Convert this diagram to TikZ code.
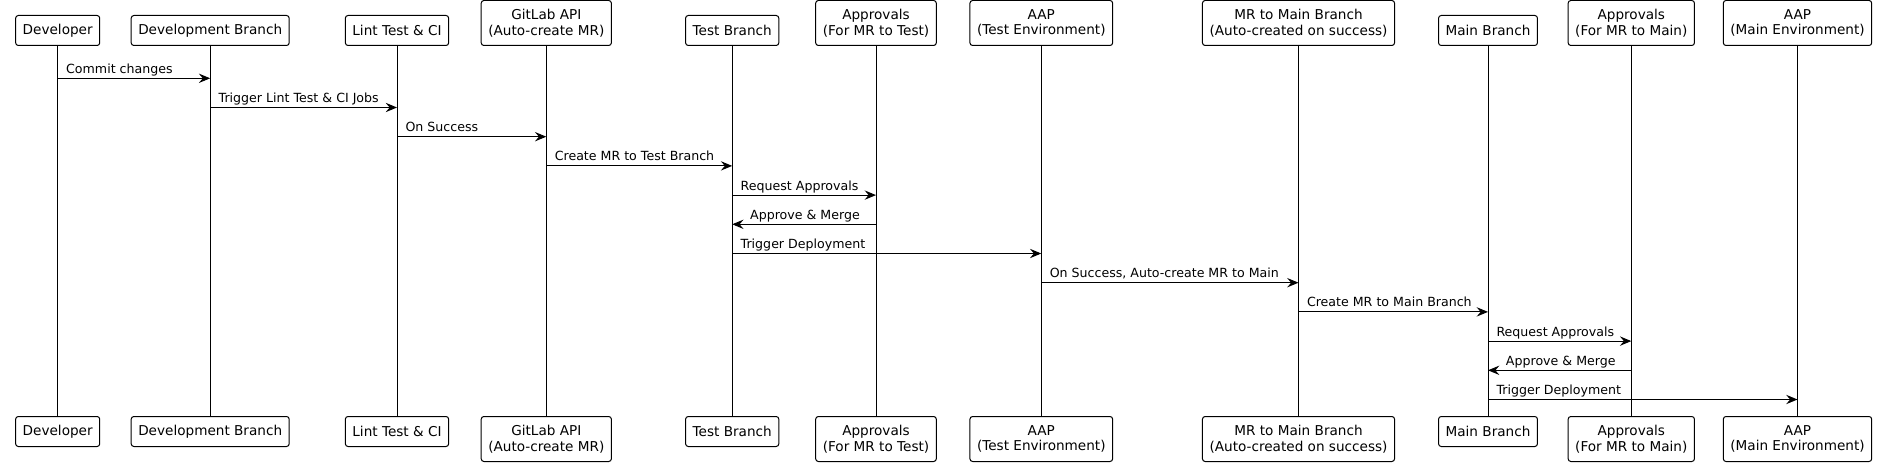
\documentclass[tikz,border=0pt]{standalone}
\usepackage{fontspec}
\setmainfont{DejaVu Sans}
\usetikzlibrary{arrows.meta}

\begin{document}
\begin{tikzpicture}[x=0.75pt,y=-0.75pt]
        \tikzstyle{actor}=[draw,fill=white,rounded corners=2pt,line width=0.75pt,align=center,font=\fontsize{10.2}{11.8}\selectfont,inner xsep=5.3pt,inner ysep=2pt,minimum height=22.5pt]
        \tikzstyle{actortwo}=[actor,minimum height=33.75pt]
        \tikzstyle{life}=[line width=0.75pt]
        \tikzstyle{msg}=[-{Stealth[length=8.5pt,width=7pt,inset=3pt]},line width=0.75pt]
        \tikzstyle{lblr}=[anchor=base west,xshift=6pt,yshift=3.75pt,inner sep=0pt,font=\fontsize{9.45}{11}\selectfont]
        \tikzstyle{lbll}=[anchor=base west,xshift=13.1pt,yshift=3.75pt,inner sep=0pt,font=\fontsize{9.45}{11}\selectfont]

        \useasboundingbox (0,0) rectangle (1882,463);

        %%% Participants (top)
        \node[actor,anchor=south] (devtop) at (57.7,46) {Developer};
        \node[actor,anchor=south] (devbrtop) at (210.2,46) {Development Branch};
        \node[actor,anchor=south] (linttop) at (397,46) {Lint Test \& CI};
        \node[actortwo,anchor=south] (apitop) at (546.3,46) {GitLab API\\(Auto-create MR)};
        \node[actor,anchor=south] (testbrtop) at (732.2,46) {Test Branch};
        \node[actortwo,anchor=south] (apprttop) at (876,46) {Approvals\\(For MR to Test)};
        \node[actortwo,anchor=south] (aapttop) at (1041.3,46) {AAP\\(Test Environment)};
        \node[actortwo,anchor=south] (mrmaintop) at (1298.5,46) {MR to Main Branch\\(Auto-created on success)};
        \node[actor,anchor=south] (mainbrtop) at (1488,46) {Main Branch};
        \node[actortwo,anchor=south] (apprmtop) at (1631.3,46) {Approvals\\(For MR to Main)};
        \node[actortwo,anchor=south] (aapmtop) at (1797.5,46) {AAP\\(Main Environment)};

        %%% Participants (bottom)
        \node[actor,anchor=north] (devbot) at (57.7,416) {Developer};
        \node[actor,anchor=north] (devbrbot) at (210.2,416) {Development Branch};
        \node[actor,anchor=north] (lintbot) at (397,416) {Lint Test \& CI};
        \node[actortwo,anchor=north] (apibot) at (546.3,416) {GitLab API\\(Auto-create MR)};
        \node[actor,anchor=north] (testbrbot) at (732.2,416) {Test Branch};
        \node[actortwo,anchor=north] (apprtbot) at (876,416) {Approvals\\(For MR to Test)};
        \node[actortwo,anchor=north] (aaptbot) at (1041.3,416) {AAP\\(Test Environment)};
        \node[actortwo,anchor=north] (mrmainbot) at (1298.5,416) {MR to Main Branch\\(Auto-created on success)};
        \node[actor,anchor=north] (mainbrbot) at (1488,416) {Main Branch};
        \node[actortwo,anchor=north] (apprmbot) at (1631.3,416) {Approvals\\(For MR to Main)};
        \node[actortwo,anchor=north] (aapmbot) at (1797.5,416) {AAP\\(Main Environment)};

        %%% Lifelines
        \draw[life] (devtop.south) -- (devbot.north);
        \draw[life] (devbrtop.south) -- (devbrbot.north);
        \draw[life] (linttop.south) -- (lintbot.north);
        \draw[life] (apitop.south) -- (apibot.north);
        \draw[life] (testbrtop.south) -- (testbrbot.north);
        \draw[life] (apprttop.south) -- (apprtbot.north);
        \draw[life] (aapttop.south) -- (aaptbot.north);
        \draw[life] (mrmaintop.south) -- (mrmainbot.north);
        \draw[life] (mainbrtop.south) -- (mainbrbot.north);
        \draw[life] (apprmtop.south) -- (apprmbot.north);
        \draw[life] (aapmtop.south) -- (aapmbot.north);

        %%% Message rows
        \coordinate (m1) at (0,78.3);
        \coordinate (m2) at (0,107.5);
        \coordinate (m3) at (0,136.7);
        \coordinate (m4) at (0,165.9);
        \coordinate (m5) at (0,195.1);
        \coordinate (m6) at (0,224.3);
        \coordinate (m7) at (0,253.5);
        \coordinate (m8) at (0,282.7);
        \coordinate (m9) at (0,311.9);
        \coordinate (m10) at (0,341.1);
        \coordinate (m11) at (0,370.3);
        \coordinate (m12) at (0,399.5);

        %%% Messages
        \draw[msg] (devtop.south |- m1) node[lblr] {Commit changes} -- (devbrtop.south |- m1);
        \draw[msg] (devbrtop.south |- m2) node[lblr] {Trigger Lint Test \& CI Jobs} -- (linttop.south |- m2);
        \draw[msg] (linttop.south |- m3) node[lblr] {On Success} -- (apitop.south |- m3);
        \draw[msg] (apitop.south |- m4) node[lblr] {Create MR to Test Branch} -- (testbrtop.south |- m4);
        \draw[msg] (testbrtop.south |- m5) node[lblr] {Request Approvals} -- (apprttop.south |- m5);
        \draw[msg] (apprttop.south |- m6) -- (testbrtop.south |- m6) node[lbll] {Approve \& Merge};
        \draw[msg] (testbrtop.south |- m7) node[lblr] {Trigger Deployment} -- (aapttop.south |- m7);
        \draw[msg] (aapttop.south |- m8) node[lblr] {On Success, Auto-create MR to Main} -- (mrmaintop.south |- m8);
        \draw[msg] (mrmaintop.south |- m9) node[lblr] {Create MR to Main Branch} -- (mainbrtop.south |- m9);
        \draw[msg] (mainbrtop.south |- m10) node[lblr] {Request Approvals} -- (apprmtop.south |- m10);
        \draw[msg] (apprmtop.south |- m11) -- (mainbrtop.south |- m11) node[lbll] {Approve \& Merge};
        \draw[msg] (mainbrtop.south |- m12) node[lblr] {Trigger Deployment} -- (aapmtop.south |- m12);
\end{tikzpicture}
\end{document}
